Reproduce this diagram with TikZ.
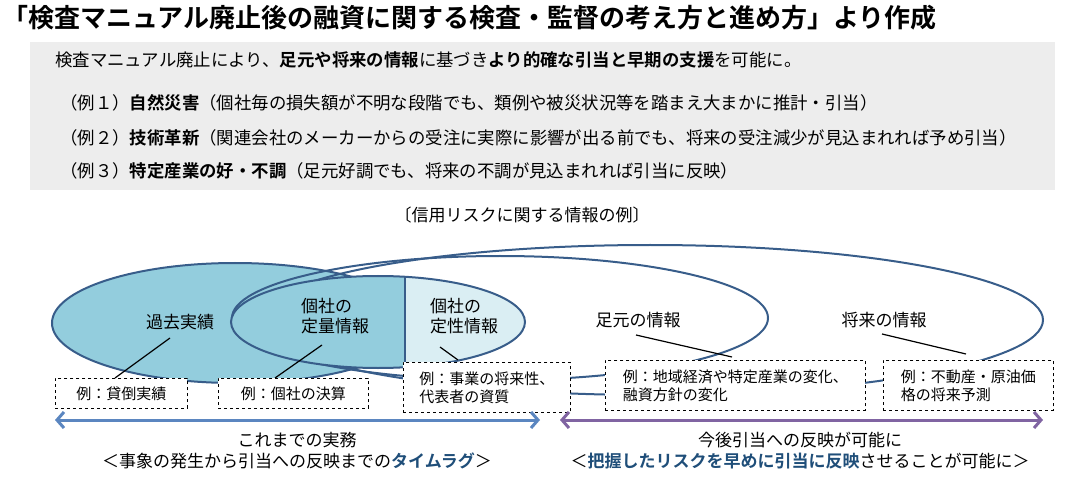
\documentclass[tikz,border=0pt]{standalone}
\usepackage{fontspec}
\usetikzlibrary{arrows.meta}
\setmainfont{Noto Sans CJK JP}[BoldFont={Noto Sans CJK JP Bold}]
\definecolor{pastblue}{HTML}{93CDDD}
\definecolor{lightblue}{HTML}{DAEEF3}
\definecolor{edge}{HTML}{385D8A}
\definecolor{greybg}{HTML}{EDEDED}
\definecolor{arrblue}{HTML}{5B86C0}
\definecolor{arrpurple}{HTML}{8064A2}
\definecolor{darkbl}{HTML}{1F4E79}
\tikzset{
 ex/.style={draw,dashed,fill=white,inner sep=3pt,font=\fontsize{15}{18}\selectfont,align=left,anchor=north west,line width=0.8pt},
 lab/.style={font=\fontsize{17}{20}\selectfont,align=left},
 lead/.style={line width=1.2pt},
 ell/.style={draw=edge,line width=2pt},
 txt/.style={anchor=west,font=\fontsize{17.4}{20}\selectfont,inner sep=0pt},
 dbl/.style={line width=3pt,{Straight Barb[length=7pt,width=16pt]}-{Straight Barb[length=7pt,width=16pt]}}
}
\begin{document}
\begin{tikzpicture}[x=1pt,y=-1pt]
\useasboundingbox (0,0) rectangle (1065,478);
\node[anchor=west,inner sep=0pt,font=\fontsize{26}{28}\selectfont\bfseries] (title) at (2,18) {「検査マニュアル廃止後の融資に関する検査・監督の考え方と進め方」より作成};
\fill[greybg] (30,42) rectangle (1055,190);
\node[txt] (l1) at (55,60) {検査マニュアル廃止により、\textbf{足元や将来の情報}に基づき\textbf{より的確な引当と早期の支援}を可能に。};
\node[txt] (l2) at (60,103) {（例１）\textbf{自然災害}（個社毎の損失額が不明な段階でも、類例や被災状況等を踏まえ大まかに推計・引当）};
\node[txt] (l3) at (60,138) {（例２）\textbf{技術革新}（関連会社のメーカーからの受注に実際に影響が出る前でも、将来の受注減少が見込まれれば予め引当）};
\node[txt] (l4) at (60,171) {（例３）\textbf{特定産業の好・不調}（足元好調でも、将来の不調が見込まれれば引当に反映）};
\node[lab] (cap) at (522,215) {〔信用リスクに関する情報の例〕};
% ellipses
\fill[pastblue] (235,323) ellipse [x radius=183,y radius=60];
\draw[ell] (650,320) ellipse [x radius=393,y radius=75];
\draw[ell] (500,318) ellipse [x radius=268,y radius=62];
\draw[ell] (235,323) ellipse [x radius=183,y radius=60];
\fill[lightblue] (378,322) ellipse [x radius=147,y radius=46];
\begin{scope}
\clip (220,260) rectangle (405,380);
\fill[pastblue] (378,322) ellipse [x radius=147,y radius=46];
\end{scope}
\draw[ell] (378,322) ellipse [x radius=147,y radius=46];
\draw[edge,line width=2pt] (405,276) -- (405,368);
% labels
\node[lab] (past) at (180,322) {過去実績};
\node[lab] (quant) at (335,316) {個社の\\定量情報};
\node[lab] (qual) at (464,316) {個社の\\定性情報};
\node[lab] (now) at (638,320) {足元の情報};
\node[lab] (fut) at (884,320) {将来の情報};
% example boxes
\node[ex,minimum width=132pt,minimum height=30pt] (b1) at (55,378) {例：貸倒実績};
\node[ex,minimum width=150pt,minimum height=30pt] (b2) at (218,378) {例：個社の決算};
\node[ex,minimum width=167pt,minimum height=50pt] (b3) at (403,362) {例：事業の将来性、\\代表者の資質};
\node[ex,minimum width=260pt,minimum height=50pt] (b4) at (605,360) {例：地域経済や特定産業の変化、\\融資方針の変化};
\node[ex,minimum width=170pt,minimum height=50pt] (b5) at (883,360) {例：不動産・原油価\\格の将来予測};
% leads
\coordinate (p1) at (170,338); \coordinate (q1) at (115,378);
\coordinate (p2) at (322,345); \coordinate (q2) at (275,378);
\coordinate (p3) at (440,347); \coordinate (q3) at (458,360);
\coordinate (p4) at (636,335); \coordinate (q4) at (732,357);
\coordinate (p5) at (882,334); \coordinate (q5) at (966,354);
\draw[lead] (p1) -- (q1); \draw[lead] (p2) -- (q2); \draw[lead] (p3) -- (q3);
\draw[lead] (p4) -- (q4); \draw[lead] (p5) -- (q5);
% arrows
\coordinate (a1) at (55,420); \coordinate (a2) at (540,420);
\coordinate (a3) at (560,420); \coordinate (a4) at (1043,420);
\draw[arrblue,dbl] (a1) -- (a2);
\draw[arrpurple,dbl] (a3) -- (a4);
\node[lab,align=center] (t1) at (297,440) {これまでの実務};
\node[lab,align=center] (t2) at (297,461) {＜事象の発生から引当への反映までの\textcolor{darkbl}{\textbf{タイムラグ}}＞};
\node[lab,align=center] (t3) at (800,440) {今後引当への反映が可能に};
\node[lab,align=center] (t4) at (800,461) {＜\textcolor{darkbl}{\textbf{把握したリスクを早めに引当に反映}}させることが可能に＞};
\end{tikzpicture}
\end{document}
